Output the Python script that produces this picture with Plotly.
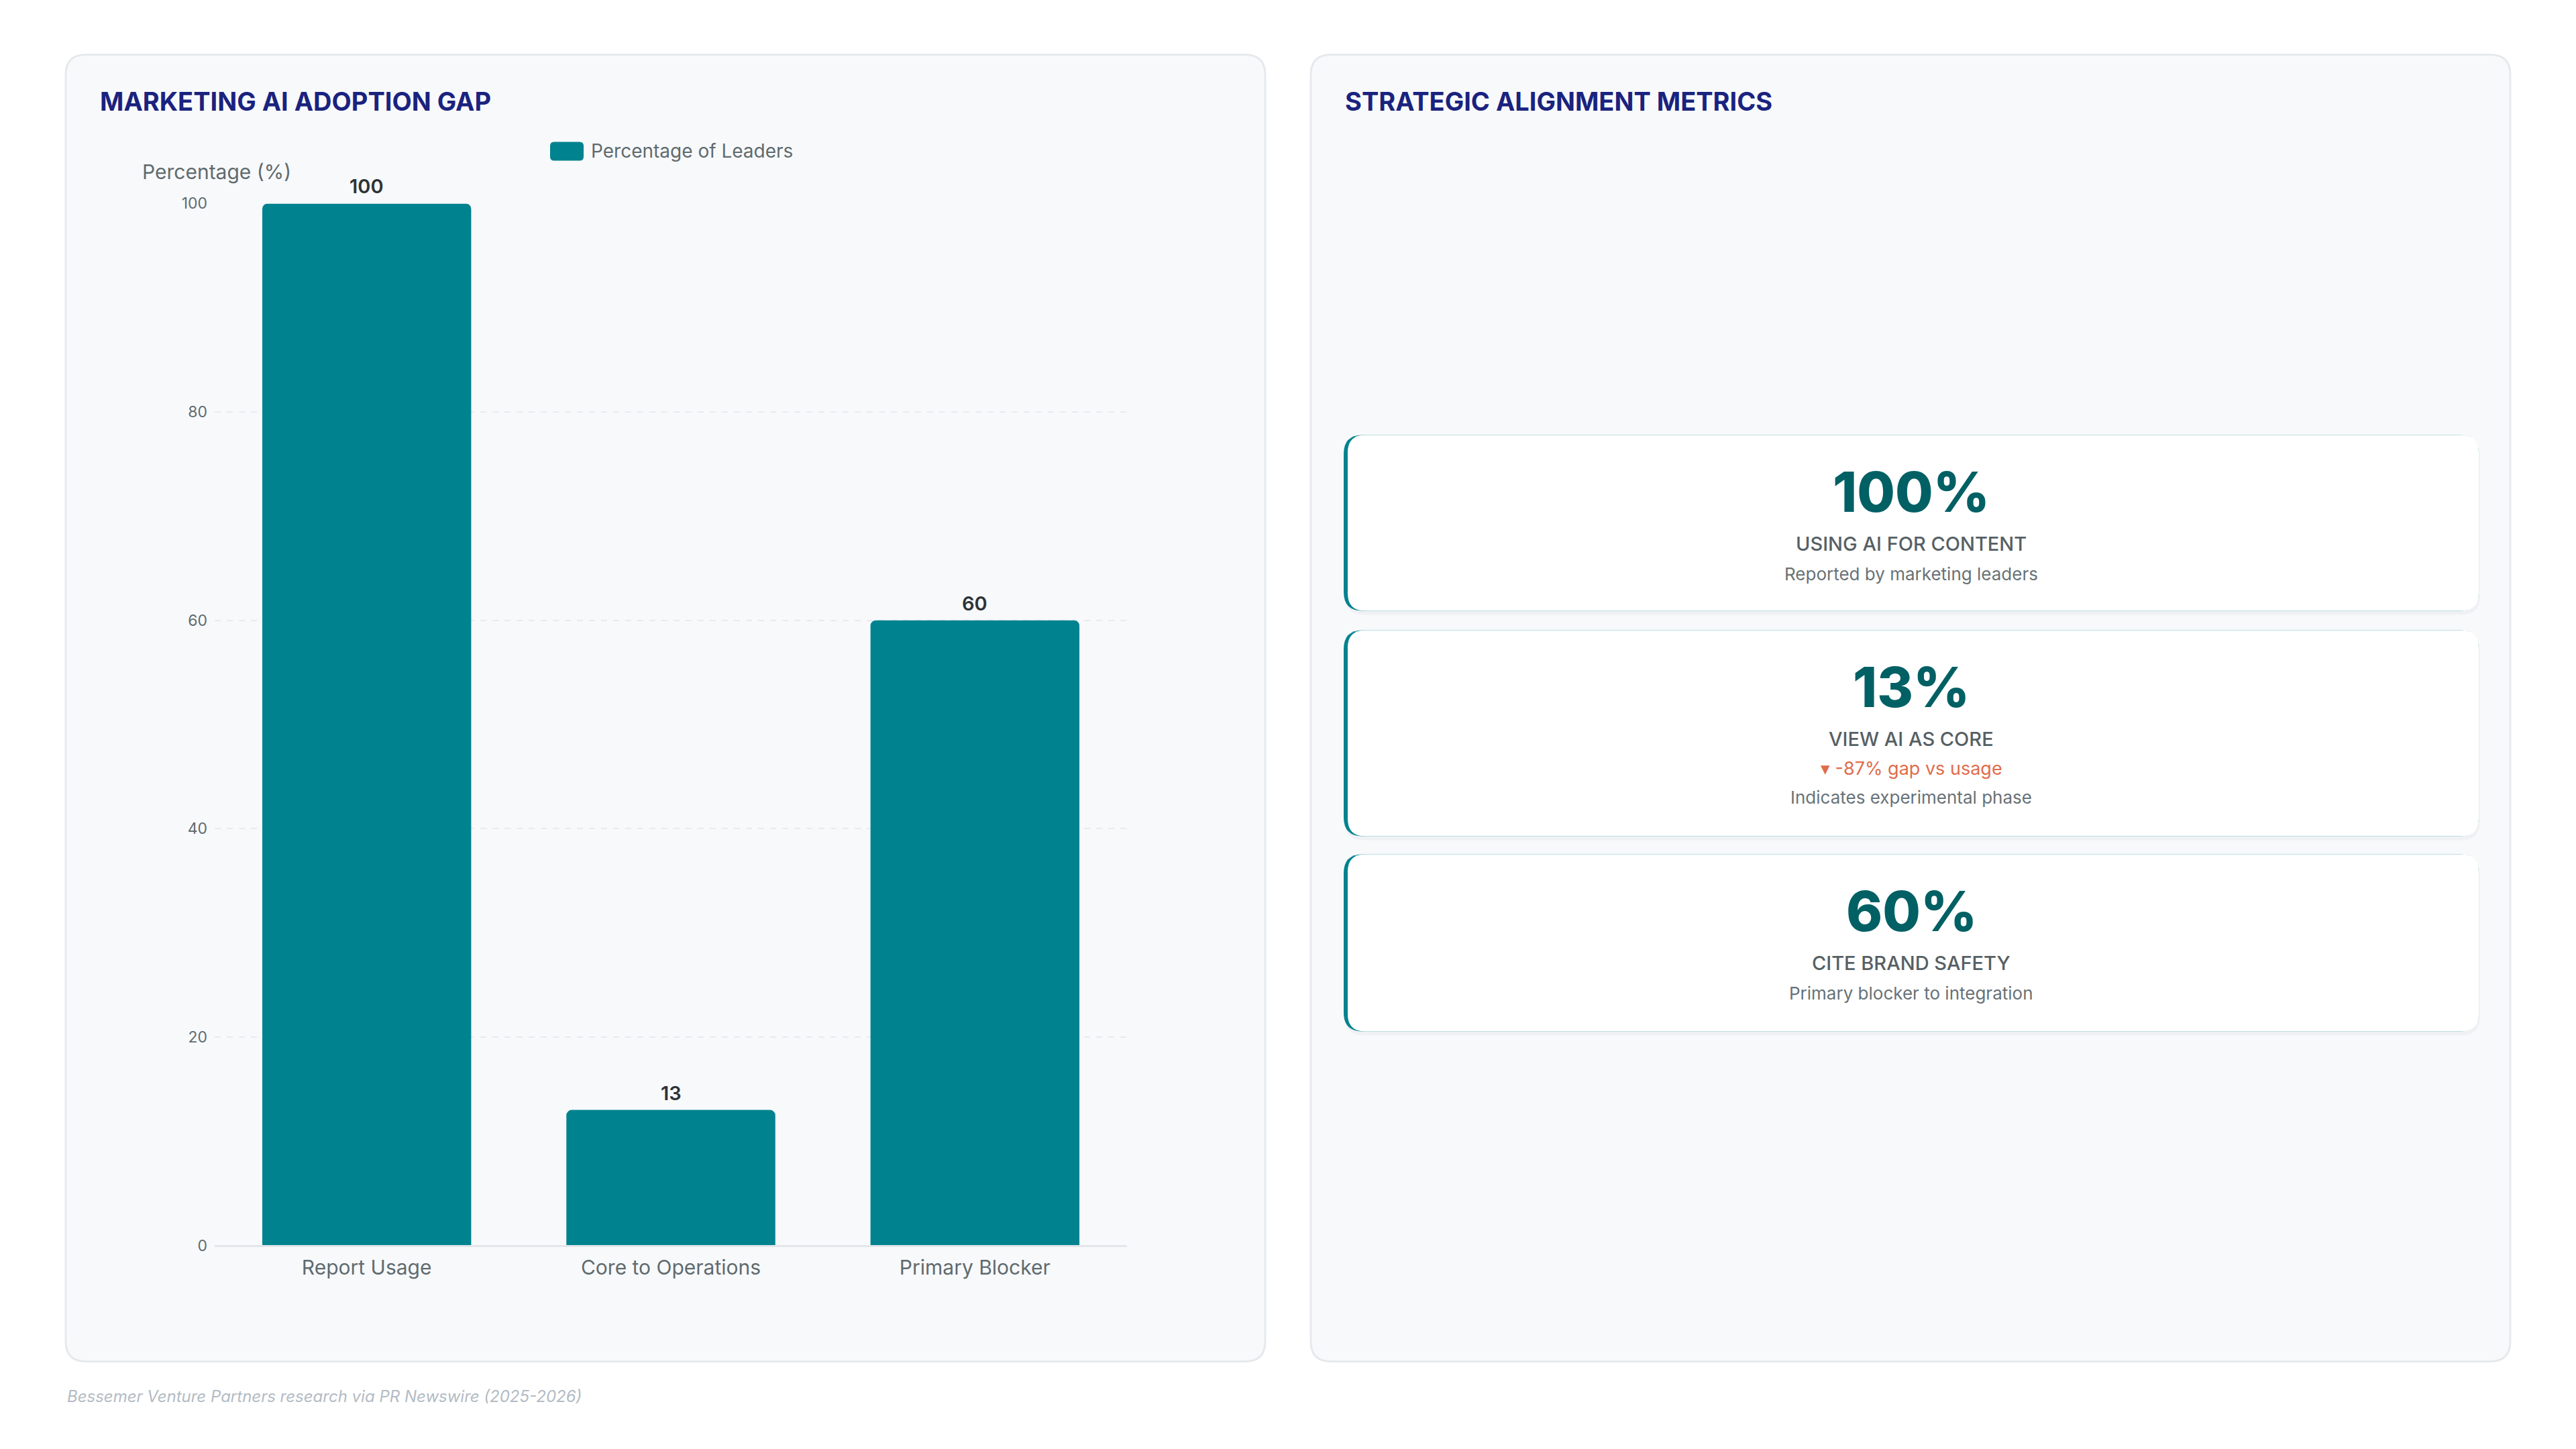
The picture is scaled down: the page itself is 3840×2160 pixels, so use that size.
import plotly.graph_objects as go

# ---------------- data ----------------
categories = ["Report Usage", "Core to Operations", "Primary Blocker"]
percentages = [100, 13, 60]
series_name = "Percentage of Leaders"
y_ticks = [0, 20, 40, 60, 80, 100]

metric_values = [100, 13, 60]
metric_labels = ["USING AI FOR CONTENT", "VIEW AI AS CORE", "CITE BRAND SAFETY"]
metric_notes = ["Reported by marketing leaders", "Indicates experimental phase", "Primary blocker to integration"]

left_title = "MARKETING AI ADOPTION GAP"
right_title = "STRATEGIC ALIGNMENT METRICS"
y_title = "Percentage (%)"
source_text = "Bessemer Venture Partners research via PR Newswire (2025-2026)"

# ---------------- styling ----------------
W, H = 3840, 2160
FONT = "Inter"
TEAL = "#00838f"
DARK_TEAL = "#006064"
NAVY = "#1a237e"
GRAY = "#5f6b6e"
GRID = "#e8eaee"
PANEL_BG = "#f8f9fb"
PANEL_BORDER = "#e6e9ed"
CORAL = "#e06c4c"

# vertical compensation observed in rendering
Y_OFF, Y_SCALE = 14.6, 0.987


def px(x):
    return x / W


def py(y):
    return 1 - ((y - Y_OFF) / Y_SCALE) / H


def rrect_path(x0, y0, x1, y1, r):
    def P(x, y):
        return f"{px(x):.6f},{py(y):.6f}"
    pts = [
        f"M {P(x0 + r, y0)}",
        f"L {P(x1 - r, y0)}",
        f"Q {P(x1, y0)} {P(x1, y0 + r)}",
        f"L {P(x1, y1 - r)}",
        f"Q {P(x1, y1)} {P(x1 - r, y1)}",
        f"L {P(x0 + r, y1)}",
        f"Q {P(x0, y1)} {P(x0, y1 - r)}",
        f"L {P(x0, y0 + r)}",
        f"Q {P(x0, y0)} {P(x0 + r, y0)}",
        "Z",
    ]
    return " ".join(pts)


shapes = []
annotations = []

# panels
for (x0, x1) in [(98, 1886), (1954, 3742)]:
    shapes.append(dict(type="path", path=rrect_path(x0, 82, x1, 2030, 30),
                       xref="paper", yref="paper", fillcolor=PANEL_BG,
                       line=dict(color=PANEL_BORDER, width=3), layer="below"))

# panel titles
annotations.append(dict(text=left_title, x=px(147), y=py(152), xref="paper", yref="paper",
                        xanchor="left", yanchor="middle", showarrow=False,
                        font=dict(family=FONT, size=38, color=NAVY, weight=700)))
annotations.append(dict(text=right_title, x=px(2003), y=py(152), xref="paper", yref="paper",
                        xanchor="left", yanchor="middle", showarrow=False,
                        font=dict(family=FONT, size=38, color=NAVY, weight=700)))

# legend (custom)
shapes.append(dict(type="path", path=rrect_path(820, 212, 870, 240, 6),
                   xref="paper", yref="paper", fillcolor=TEAL, line=dict(width=0)))
annotations.append(dict(text=series_name, x=px(879), y=py(226), xref="paper", yref="paper",
                        xanchor="left", yanchor="middle", showarrow=False,
                        font=dict(family=FONT, size=28, color=GRAY)))

# y axis title
annotations.append(dict(text=y_title, x=px(210), y=py(257), xref="paper", yref="paper",
                        xanchor="left", yanchor="middle", showarrow=False,
                        font=dict(family=FONT, size=30, color=GRAY)))

# bar value labels
for c, v in zip(categories, percentages):
    annotations.append(dict(text=f"{v}", x=c, y=v, xref="x", yref="y",
                            xanchor="center", yanchor="bottom", yshift=6, showarrow=False,
                            font=dict(family=FONT, size=29, color="#2d3436", weight=600)))

# metric cards
card_tops = [649, 940, 1274]
card_bottoms = [911, 1247, 1538]
cx0, cx1 = 2003, 3695
ccx = (cx0 + cx1) / 2
base = metric_values[0]
for i, (v, lab, note) in enumerate(zip(metric_values, metric_labels, metric_notes)):
    t, b = card_tops[i], card_bottoms[i]
    # shadow
    shapes.append(dict(type="path", path=rrect_path(cx0 + 2, t + 4, cx1 + 2, b + 6, 28),
                       xref="paper", yref="paper", fillcolor="rgba(30,40,60,0.035)", line=dict(width=0)))
    # teal left border
    shapes.append(dict(type="path", path=rrect_path(cx0, t, cx1, b, 28),
                       xref="paper", yref="paper", fillcolor=TEAL, line=dict(width=0)))
    shapes.append(dict(type="path", path=rrect_path(cx0 + 6, t, cx1, b, 26),
                       xref="paper", yref="paper", fillcolor="#ffffff", line=dict(width=0)))
    annotations.append(dict(text=f"{v}%", x=px(ccx), y=py(t + 85), xref="paper", yref="paper",
                            xanchor="center", yanchor="middle", showarrow=False,
                            font=dict(family=FONT, size=82, color=DARK_TEAL, weight=800)))
    annotations.append(dict(text=lab, x=px(ccx), y=py(t + 162), xref="paper", yref="paper",
                            xanchor="center", yanchor="middle", showarrow=False,
                            font=dict(family=FONT, size=29, color="#566064", weight=500)))
    note_off = 207
    if i == 1:
        gap = v - base
        annotations.append(dict(text=f"▾ {gap}% gap vs usage", x=px(ccx), y=py(t + 206),
                                xref="paper", yref="paper", xanchor="center", yanchor="middle",
                                showarrow=False, font=dict(family=FONT, size=27, color=CORAL)))
        note_off = 249
    annotations.append(dict(text=note, x=px(ccx), y=py(t + note_off), xref="paper", yref="paper",
                            xanchor="center", yanchor="middle", showarrow=False,
                            font=dict(family=FONT, size=26, color="#687276")))

# source footer
annotations.append(dict(text=source_text, x=px(98), y=py(2082), xref="paper", yref="paper",
                        xanchor="left", yanchor="middle", showarrow=False,
                        font=dict(family=FONT, size=24, color="#b3bbc3", style="italic")))

fig = go.Figure()
fig.add_trace(go.Bar(x=categories, y=percentages, name=series_name,
                     marker=dict(color=TEAL, cornerradius=8, line=dict(width=0)),
                     hoverinfo="x+y"))

fig.update_layout(
    width=W, height=H, autosize=False,
    margin=dict(l=0, r=0, t=0, b=0, pad=0),
    paper_bgcolor="#ffffff", plot_bgcolor="rgba(0,0,0,0)",
    showlegend=False,
    bargap=0.313,
    font=dict(family=FONT, color=GRAY),
    xaxis=dict(domain=[px(320), px(1680)], showgrid=False, zeroline=False,
               showline=True, linecolor="#e3e6ea", linewidth=3,
               ticks="", ticklabelstandoff=5,
               tickfont=dict(family=FONT, size=30, color=GRAY), fixedrange=True),
    yaxis=dict(domain=[py(1857), py(304)], range=[0, 100], tickvals=y_ticks,
               showgrid=True, gridcolor=GRID, gridwidth=2, griddash="dash",
               zeroline=False, showline=False, ticks="", ticklabelstandoff=10,
               tickfont=dict(family=FONT, size=23, color=GRAY), fixedrange=True),
    shapes=shapes,
    annotations=annotations,
)

fig.write_html(
    "out.html",
    config={"displayModeBar": False},
    post_script="document.body.style.margin='0';document.body.style.overflow='hidden';",
)
